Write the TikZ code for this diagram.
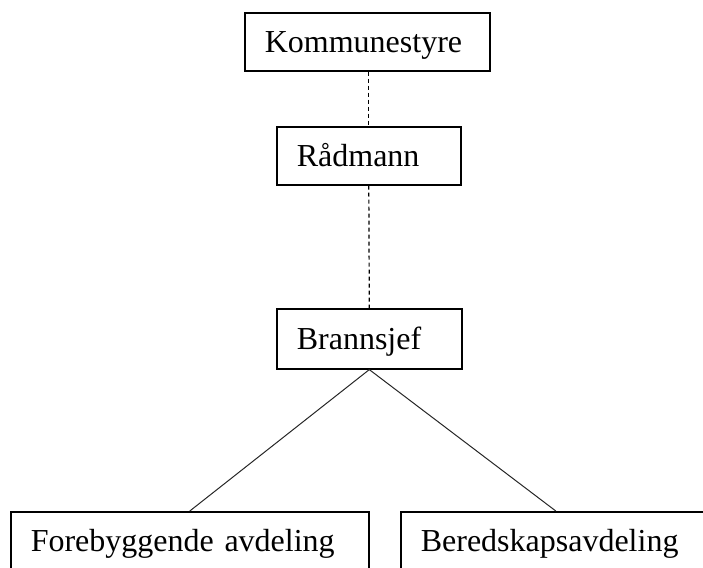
\documentclass[tikz,border=0pt]{standalone}
\usepackage{fontspec}
\setmainfont{Liberation Serif}
\usepackage{tikz}
\usetikzlibrary{calc}

\tikzset{
  orgbox/.style={draw=black, line width=1.6pt, fill=white, rectangle, anchor=north west,
    inner xsep=20pt, inner ysep=0pt, align=left, text height=22pt, text depth=0pt,
    font=\fontsize{32}{38}\selectfont},
  link/.style={black!85, line width=1pt},
  dlink/.style={black, line width=1.2pt, dash pattern=on 4pt off 3pt}
}

\begin{document}
\begin{tikzpicture} [x=1pt, y=-1pt]
\useasboundingbox (0,0) rectangle (703,567);
\clip (0,0) rectangle (703,567);
\node[orgbox, text width=205pt, minimum height=58pt] (komm) at (244,12) {Kommunestyre};
\node[orgbox, text width=144pt, minimum height=58pt] (rad) at (276,126) {Rådmann};
\node[orgbox, text width=145pt, minimum height=60pt] (brann) at (276,308) {Brannsjef};
\node[orgbox, text width=318pt, minimum height=58pt] (fore) at (10,511) {Forebyggende avdeling};
\node[orgbox, text width=270pt, minimum height=58pt] (bered) at (400,511) {Beredskapsavdeling};
\draw[dlink] (rad.north |- komm.south) -- (rad.north);
\draw[dlink] (rad.south) -- (brann.north);
\draw[link] (brann.south) -- (fore.north);
\draw[link] (brann.south) -- (bered.north);
\end{tikzpicture}
\end{document}
